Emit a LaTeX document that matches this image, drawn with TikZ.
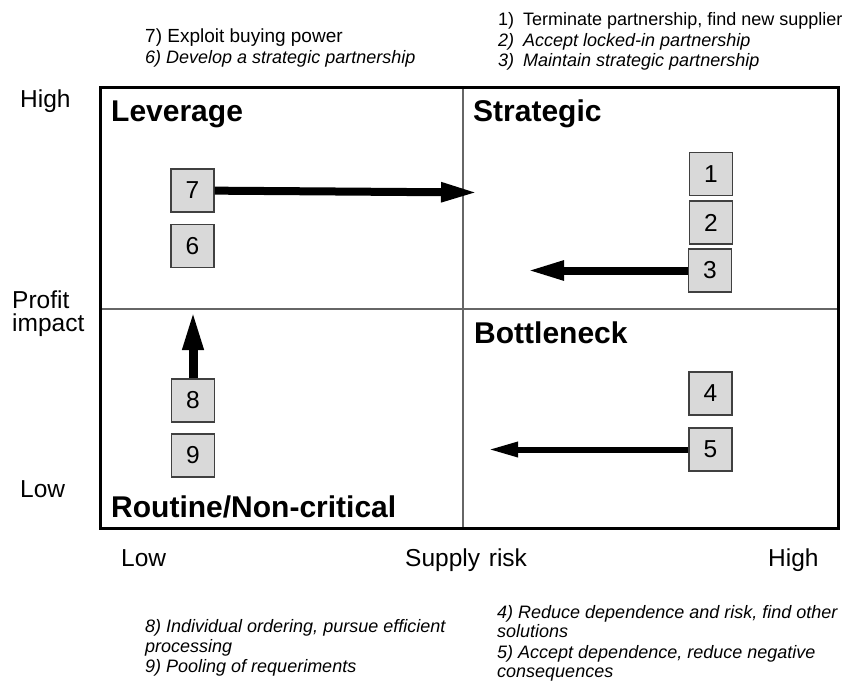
\documentclass[tikz,border=0pt]{standalone}
\usepackage{fontspec}
\setmainfont{Liberation Sans}
\usetikzlibrary{arrows.meta}
\tikzset{
item/.style={
       rectangle,
       draw=black!75,
       fill=black!15,
       line width=1.2pt,
       minimum width=43pt,
       minimum height=43pt,
       inner sep=0pt,
       font=\fontsize{24.5}{24.5}\selectfont,
       },
quad/.style={anchor=base west, inner sep=0pt, font=\bfseries\fontsize{30}{30}\selectfont},
axis/.style={anchor=base west, inner sep=0pt, font=\fontsize{24.5}{24.5}\selectfont},
note/.style={anchor=base west, inner sep=0pt, font=\fontsize{18}{18}\selectfont},
bigarrow/.style={line width=8pt, -{Triangle[length=37pt,width=18pt]}},
}

\begin{document}
\begin{tikzpicture}[x=1pt, y=-1pt]
      \useasboundingbox (0,0) rectangle (847,682);

      % quadrant grid
      \draw[black!60, line width=1.2pt] (463,88) -- (463,528);
      \draw[black!60, line width=1.2pt] (100,309) -- (838,309);
      \draw[line width=3pt] (100,88) rectangle (838,528);

      % quadrant names
      \node[quad] (lev) at (111,122) {Leverage};
      \node[quad] (str) at (473,122) {Strategic};
      \node[quad] (bot) at (474,343) {Bottleneck};
      \node[quad] (rou) at (111,517) {Routine/Non-critical};

      % axes
      \node[axis] (yhigh) at (20,108) {High};
      \node[axis] (yname) at (12,308) {Profit};
      \node[axis] (yname2) at (12,331) {impact};
      \node[axis] (ylow) at (20,497) {Low};
      \node[axis] (xlow) at (121,566) {Low};
      \node[axis] (xname) at (405,566) {Supply\hspace{2pt} risk};
      \node[axis] (xhigh) at (768,566) {High};

      % numbered items
      \foreach \n/\x/\y in {
          1/711/174, 2/711/222.5, 3/710/270.5,
          4/710.5/393.5, 5/710.5/449.5,
          6/192.5/246, 7/192.5/190.5,
          8/193/400.5, 9/193/455.5
      } {
          \node[item] (b\n) at (\x,\y) {\n};
      }

      % moves
      \coordinate (t7) at (478,192.5);
      \coordinate (t3) at (527,270.5);
      \coordinate (t8) at (193,310);
      \coordinate (t5) at (488,449.5);
      \draw[bigarrow] (b7) -- (t7);
      \draw[bigarrow] (b3) -- (t3);
      \draw[line width=9pt, -{Triangle[length=40pt,width=19pt]}] (b8) -- (t8);
      \draw[line width=6pt, -{Triangle[length=30pt,width=14pt]}] (b5) -- (t5);

      % notes
      \node[note, font=\fontsize{19}{19}\selectfont] (n7) at (145,43) {7) Exploit buying power};
      \node[note] (n6) at (145,64) {\itshape 6) Develop a strategic partnership};
      \foreach \k/\y/\t in {
          1/26/{1)\hspace{4pt} Terminate partnership, find new supplier},
          2/46.5/{\itshape 2)\hspace{4pt} Accept locked-in partnership},
          3/67/{\itshape 3)\hspace{4pt} Maintain strategic partnership}
      } {
          \node[note] (n\k) at (498,\y) {\t};
      }
      \foreach \k/\y/\t in {
          a/632/{8) Individual ordering, pursue efficient},
          b/652/{processing},
          c/672/{9) Pooling of requeriments}
      } {
          \node[note, font=\itshape\fontsize{18}{18}\selectfont] (m\k) at (145,\y) {\t};
      }
      \foreach \k/\y/\t in {
          a/618/{4) Reduce dependence and risk, find other},
          b/637/{solutions},
          c/658/{5) Accept dependence, reduce negative},
          d/677/{consequences}
      } {
          \node[note, font=\itshape\fontsize{18}{18}\selectfont] (r\k) at (497,\y) {\t};
      }
\end{tikzpicture}
\end{document}
